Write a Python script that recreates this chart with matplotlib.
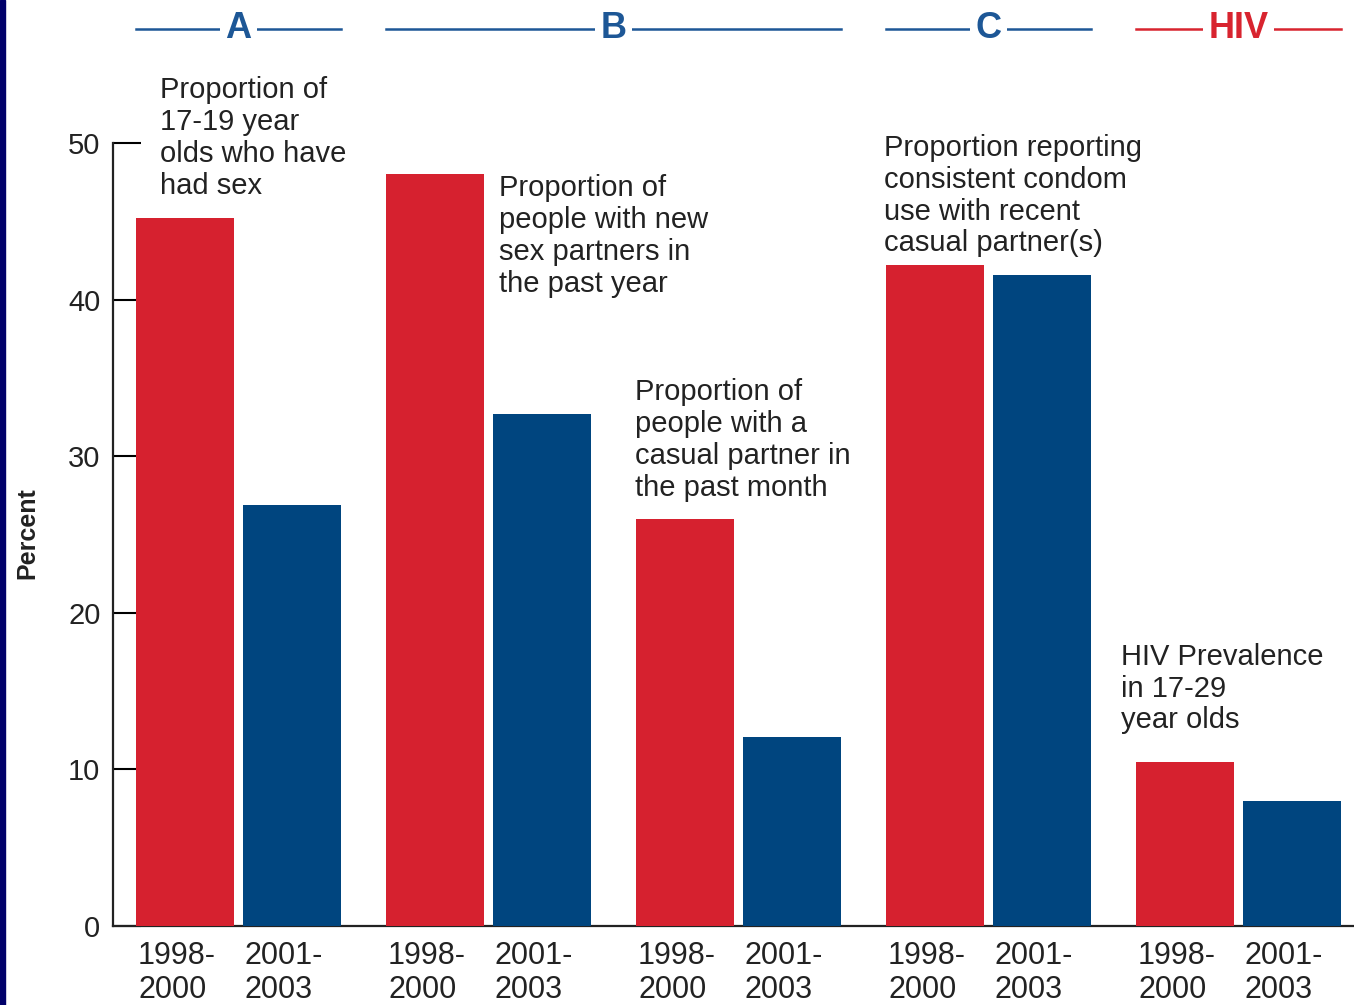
import matplotlib.pyplot as plt
from matplotlib.patches import Rectangle
from matplotlib.transforms import ScaledTranslation
import numpy as np

plt.rcParams['font.family'] = ['Liberation Sans', 'DejaVu Sans']

# Data
period_labels = ['1998-\n2000', '2001-\n2003']
early = [45.2, 48.0, 26.0, 42.2, 10.5]   # 1998-2000
late = [26.9, 32.7, 12.1, 41.6, 8.0]     # 2001-2003
descriptions = [
    'Proportion of\n17-19 year\nolds who have\nhad sex',
    'Proportion of\npeople with new\nsex partners in\nthe past year',
    'Proportion of\npeople with a\ncasual partner in\nthe past month',
    'Proportion reporting\nconsistent condom\nuse with recent\ncasual partner(s)',
    'HIV Prevalence\nin 17-29\nyear olds',
]
headers = ['A', 'B', 'C', 'HIV']
header_groups = [[0], [1, 2], [3], [4]]

RED = '#d6212f'
BLUE = '#00457f'
HEAD_BLUE = '#1d5796'
HEAD_RED = '#d8242f'
TXT = '#222222'

fig = plt.figure(figsize=(13.54, 10.05), dpi=100)
ax = fig.add_axes([113 / 1354, 79 / 1005, 1241 / 1354, 783 / 1005])
ax.set_xlim(1.13, 13.54)
ax.set_ylim(0, 50)

# bar layout
pitch, x0, width, offset = 2.5, 1.36, 0.98, 1.07
starts = x0 + pitch * np.arange(len(early))
red_x = starts + width / 2
blue_x = starts + offset + width / 2

ax.bar(red_x, early, width, color=RED, zorder=3)
ax.bar(blue_x, late, width, color=BLUE, zorder=3)

# x tick labels
xt = np.ravel(np.column_stack([red_x, blue_x]))
ax.set_xticks(xt)
ax.set_xticklabels(period_labels * len(early), fontsize=22, color=TXT,
                   multialignment='left', linespacing=1.15)
ax.tick_params(axis='x', length=0, pad=11)
shift = ScaledTranslation(-8 / 100, 0, fig.dpi_scale_trans)
for lbl in ax.get_xticklabels():
    lbl.set_transform(lbl.get_transform() + shift)

ax.set_yticks(range(0, 51, 10))
ax.tick_params(axis='y', direction='in', length=20, width=1.5, pad=9,
               labelsize=21, labelcolor=TXT)

for s in ['top', 'right']:
    ax.spines[s].set_visible(False)
for s in ['left', 'bottom']:
    ax.spines[s].set_linewidth(1.6)
    ax.spines[s].set_color(TXT)

# annotations above bars
text_pos = [(1.60, 54.3), (4.99, 48.0), (6.35, 35.0), (8.84, 50.6), (11.21, 18.1)]
for (tx, ty), txt in zip(text_pos, descriptions):
    ax.text(tx, ty, txt, ha='left', va='top', fontsize=21, color=TXT,
            linespacing=1.18, clip_on=False, zorder=4)

# group headers
hy = 57.3
for label, members in zip(headers, header_groups):
    left = starts[members[0]]
    right = starts[members[-1]] + offset + width
    col = HEAD_RED if label == 'HIV' else HEAD_BLUE
    ax.plot([left, right], [hy, hy], color=col, lw=1.8, clip_on=False, zorder=4)
    ax.text((left + right) / 2, hy, label, ha='center', va='center',
            fontsize=26, fontweight='bold', color=col, clip_on=False, zorder=5,
            bbox=dict(facecolor='white', edgecolor='none', pad=4))

fig.text(27 / 1354, 1 - 533 / 1005, 'Percent', rotation=90, ha='center',
         va='center', fontsize=18, fontweight='bold', color=TXT)

# navy strip on the left edge
fig.add_artist(Rectangle((0, 0), 5 / 1354, 1, transform=fig.transFigure,
                         color='#00006a'))

fig.savefig('out.png', dpi=100)
